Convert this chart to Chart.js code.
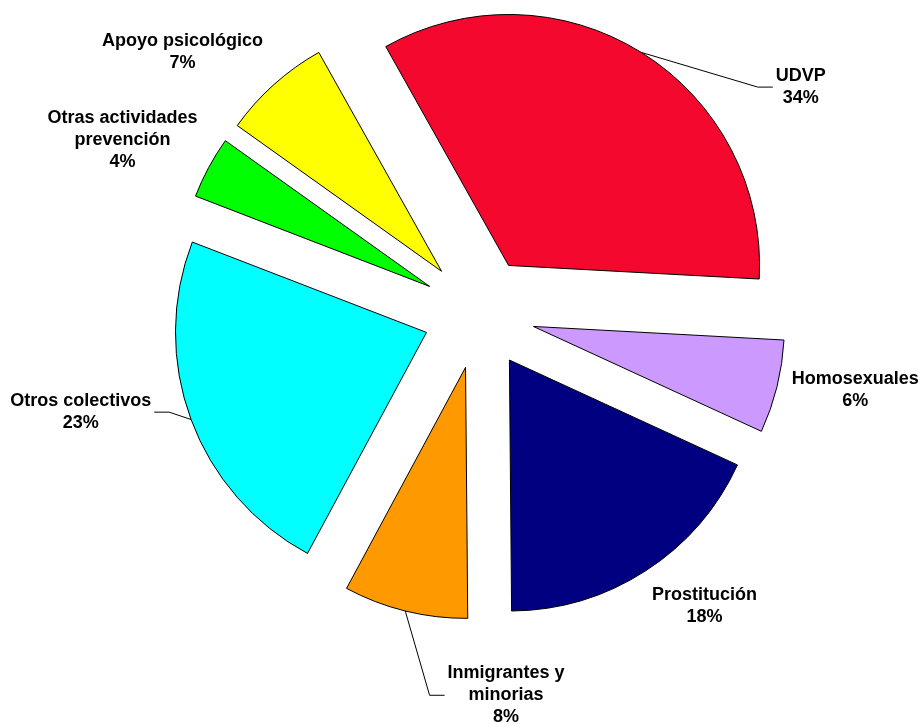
<!DOCTYPE html>
<html lang="es">
<head>
<meta charset="utf-8">
<title>Distribución por programas</title>
<script src="https://cdn.jsdelivr.net/npm/chart.js@4.4.1/dist/chart.umd.min.js"></script>
<style>
  html, body { margin: 0; padding: 0; background: #ffffff; }
  #wrap { width: 921px; height: 724px; }
  canvas { display: block; }
</style>
</head>
<body>
<div id="wrap"><canvas id="pie" width="921" height="724"></canvas></div>
<script>
// Program areas and their share of the total (%)
const categories = [
  'UDVP',
  'Homosexuales',
  'Prostitución',
  'Inmigrantes y minorias',
  'Otros colectivos',
  'Otras actividades prevención',
  'Apoyo psicológico'
];
const shares = [34, 6, 18, 8, 23, 4, 7];

// How each category name is broken over lines in its label
const labelLines = [
  ['UDVP'],
  ['Homosexuales'],
  ['Prostitución'],
  ['Inmigrantes y', 'minorias'],
  ['Otros colectivos'],
  ['Otras actividades', 'prevención'],
  ['Apoyo psicológico']
];

const sliceColors = ['#F5082E', '#CC99FF', '#000080', '#FF9900', '#00FFFF', '#00FF00', '#FFFF00'];

// Label block centres, in units of the pie radius from the pie centre,
// and on which side a leader line is drawn (null = no leader)
const labelLayout = [
  { fx:  1.282, fy: -0.902, leader: 'right' },
  { fx:  1.499, fy:  0.306, leader: null },
  { fx:  0.898, fy:  1.169, leader: null },
  { fx:  0.108, fy:  1.521, leader: 'right' },
  { fx: -1.587, fy:  0.393, leader: 'left' },
  { fx: -1.420, fy: -0.690, leader: null },
  { fx: -1.181, fy: -1.041, leader: null }
];

const PIE_RADIUS = 251;
const EXPLODE = 56;          // distance every slice is pulled out from the centre
const LINE_H = 22;
const LABEL_FONT = 'bold 18px "Liberation Sans", Arial, Helvetica, sans-serif';

// Pull every arc outward along its bisector (exploded pie)
const explodePlugin = {
  id: 'explode',
  afterDatasetUpdate(chart, args) {
    const meta = chart.getDatasetMeta(args.index);
    meta.data.forEach(arc => {
      const mid = (arc.startAngle + arc.endAngle) / 2;
      arc.x += Math.cos(mid) * EXPLODE;
      arc.y += Math.sin(mid) * EXPLODE;
    });
  }
};

// Category name + percentage labels, with leader lines where needed
const sliceLabels = {
  id: 'sliceLabels',
  afterDatasetsDraw(chart) {
    const ctx = chart.ctx;
    const area = chart.chartArea;
    const cx = (area.left + area.right) / 2;
    const cy = (area.top + area.bottom) / 2;
    const meta = chart.getDatasetMeta(0);
    ctx.save();
    ctx.font = LABEL_FONT;
    ctx.fillStyle = '#000000';
    ctx.textAlign = 'center';
    ctx.textBaseline = 'middle';
    meta.data.forEach((arc, i) => {
      const lay = labelLayout[i];
      const lines = labelLines[i].concat([shares[i] + '%']);
      const R = arc.outerRadius;
      const lx = cx + lay.fx * R;
      const ly = cy + lay.fy * R;
      const n = lines.length;
      let maxW = 0;
      lines.forEach((t, k) => {
        maxW = Math.max(maxW, ctx.measureText(t).width);
        ctx.fillText(t, lx, ly + (k - (n - 1) / 2) * LINE_H);
      });
      if (lay.leader) {
        const mid = (arc.startAngle + arc.endAngle) / 2;
        const sx = arc.x + Math.cos(mid) * R;
        const sy = arc.y + Math.sin(mid) * R;
        const dir = lay.leader === 'right' ? -1 : 1;
        const edge = lx + dir * maxW / 2;
        ctx.beginPath();
        ctx.strokeStyle = '#000000';
        ctx.lineWidth = 1;
        ctx.moveTo(sx, sy);
        ctx.lineTo(edge + dir * 18, ly + 0.5);
        ctx.lineTo(edge + dir * 3, ly + 0.5);
        ctx.stroke();
      }
    });
    ctx.restore();
  }
};

new Chart(document.getElementById('pie'), {
  type: 'pie',
  data: {
    labels: categories,
    datasets: [{
      data: shares,
      backgroundColor: sliceColors,
      borderColor: '#000000',
      borderWidth: 1,
      borderJoinStyle: 'miter',
      radius: PIE_RADIUS
    }]
  },
  options: {
    responsive: false,
    devicePixelRatio: 1,
    animation: false,
    rotation: -29.3,
    layout: { padding: { left: 37, right: 0, top: 0, bottom: 98 } },
    plugins: {
      legend: { display: false },
      tooltip: { enabled: false }
    },
    events: []
  },
  plugins: [explodePlugin, sliceLabels]
});
</script>
</body>
</html>
